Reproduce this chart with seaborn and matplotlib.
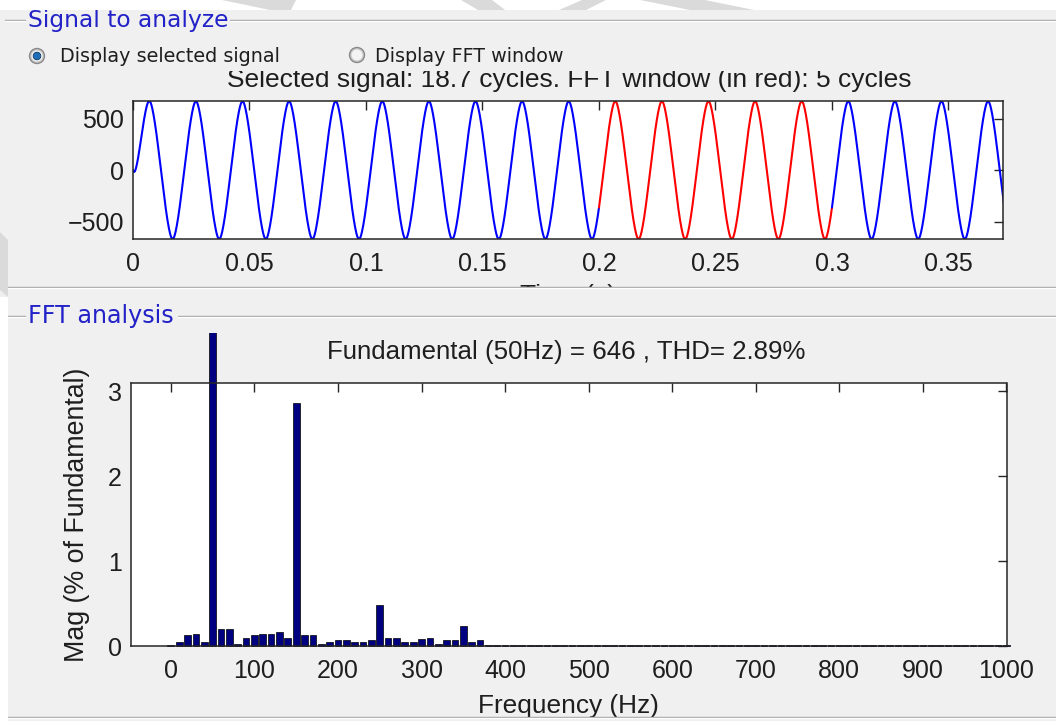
import numpy as np
import pandas as pd
import matplotlib
matplotlib.use("Agg")
import matplotlib.pyplot as plt
import seaborn as sns
from matplotlib.patches import Rectangle, Polygon, Ellipse
from matplotlib.lines import Line2D
from matplotlib.transforms import Bbox, TransformedBbox

# ---------------- data ----------------
FUND_FREQ = 50          # Hz
FUND_AMP = 646          # fundamental magnitude
THD = 2.89              # %
CYCLES_SELECTED = 18.7
FFT_START = 0.2         # s
FFT_CYCLES = 5
SIGNAL_LAG = 0.002      # s, phase lag of the waveform

freq_hz = list(range(0, 1001, 10))
mag_pct = [
    0.02, 0.05, 0.13, 0.15, 0.05, 100.0, 0.20, 0.20, 0.03, 0.10,   # 0-90
    0.13, 0.15, 0.15, 0.17, 0.10, 2.86, 0.13, 0.13, 0.03, 0.05,    # 100-190
    0.07, 0.07, 0.05, 0.05, 0.07, 0.49, 0.10, 0.10, 0.05, 0.05,    # 200-290
    0.09, 0.10, 0.03, 0.07, 0.07, 0.24, 0.05, 0.07, 0.02, 0.02,    # 300-390
    0.02, 0.02, 0.02, 0.02, 0.02, 0.02, 0.02, 0.02, 0.02, 0.02,    # 400-490
    0.02, 0.02, 0.02, 0.02, 0.02, 0.02, 0.02, 0.02, 0.02, 0.02,    # 500-590
    0.02, 0.02, 0.02, 0.02, 0.02, 0.02, 0.02, 0.02, 0.02, 0.02,    # 600-690
    0.02, 0.02, 0.02, 0.02, 0.02, 0.02, 0.02, 0.02, 0.02, 0.02,    # 700-790
    0.02, 0.02, 0.02, 0.02, 0.02, 0.02, 0.02, 0.02, 0.02, 0.02,    # 800-890
    0.02, 0.02, 0.02, 0.02, 0.02, 0.02, 0.02, 0.02, 0.02, 0.02,    # 900-990
    0.02,                                                          # 1000
]
harm_phase = {3: np.pi, 5: 0.0, 7: np.pi}   # harmonic phases (rad)

time_ticks = [0, 0.05, 0.1, 0.15, 0.2, 0.25, 0.3, 0.35]
time_ticklabels = ["0", "0.05", "0.1", "0.15", "0.2", "0.25", "0.3", "0.35"]
sig_yticks = [-500, 0, 500]
freq_ticks = list(range(0, 1001, 100))
mag_yticks = [0, 1, 2, 3]

# ---------------- figure ----------------
W, H = 1056, 721
BG = "#f0f0f0"
TXT = "#1e1e1e"
PANEL_BLUE = "#2222c8"
WM = "#dadada"

sns.set_theme(style="white")
plt.rcParams["font.family"] = ["Liberation Sans", "DejaVu Sans"]
fig = plt.figure(figsize=(W / 100, H / 100), dpi=100, facecolor=BG)


def fx(x):
    return x / W


def fy(y):
    return 1 - y / H


def axes_px(l, t, r, b):
    return [fx(l), fy(b), (r - l) / W, (b - t) / H]


def hline(y, x0, x1):
    fig.add_artist(Line2D([fx(x0), fx(x1)], [fy(y), fy(y)], transform=fig.transFigure,
                          color="#a0a0a0", lw=1.0, zorder=4))
    fig.add_artist(Line2D([fx(x0), fx(x1)], [fy(y + 1), fy(y + 1)], transform=fig.transFigure,
                          color="#ffffff", lw=1.0, zorder=4))


def poly_px(pts, color, z=7):
    fig.add_artist(Polygon([(fx(x), fy(y)) for x, y in pts], closed=True,
                           transform=fig.transFigure, facecolor=color,
                           edgecolor="none", zorder=z))


# ---------- time signal (built from the harmonic data) ----------
w = 2 * np.pi * FUND_FREQ
t = np.arange(0, CYCLES_SELECTED / FUND_FREQ + 1e-9, 1e-4)


def steady(tt):
    th = w * (tt - SIGNAL_LAG)
    s = np.sin(th)
    for k, ph in harm_phase.items():
        s = s + mag_pct[freq_hz.index(k * FUND_FREQ)] / 100 * np.sin(k * th + ph)
    return FUND_AMP * s


sig = steady(t) - steady(np.array([0.0]))[0] * np.exp(-t / 0.0015)
df_sig = pd.DataFrame({"t": t, "v": sig})
win_end = FFT_START + FFT_CYCLES / FUND_FREQ
eps = 1e-9
df_before = df_sig[df_sig.t <= FFT_START + eps]
df_win = df_sig[(df_sig.t >= FFT_START - eps) & (df_sig.t <= win_end + eps)]
df_after = df_sig[df_sig.t >= win_end - eps]

ax1 = fig.add_axes(axes_px(133, 101, 1003, 239))
ax1.set_facecolor("white")
for part, col in ((df_before, "#0000ff"), (df_win, "#ff0000"), (df_after, "#0000ff")):
    sns.lineplot(data=part, x="t", y="v", ax=ax1, color=col, lw=1.5,
                 estimator=None, sort=False)
ax1.set_xlim(0, 0.3734)
ax1.set_ylim(sig.min(), sig.max())
ax1.set_xticks(time_ticks)
ax1.set_xticklabels(time_ticklabels)
ax1.set_yticks(sig_yticks)
ax1.set_xlabel("")
ax1.set_ylabel("")

# ---------- FFT bars ----------
df_fft = pd.DataFrame({"f": freq_hz, "m": mag_pct})
ax2 = fig.add_axes(axes_px(130.7, 382.7, 1006.5, 646.3))
ax2.set_facecolor("white")
sns.barplot(data=df_fft, x="f", y="m", ax=ax2, native_scale=True, color="#000080",
            saturation=1, errorbar=None, width=0.8, edgecolor="black", linewidth=0.5)
ax2.set_xlim(-48, 1000)
ax2.set_ylim(0, 3.1)
ax2.set_xticks(freq_ticks)
ax2.set_xticklabels([str(v) for v in freq_ticks])
ax2.set_yticks(mag_yticks)
ax2.set_xlabel("Frequency (Hz)", fontsize=18.9, color=TXT, labelpad=7.5)
ax2.set_ylabel("Mag (% of Fundamental)", fontsize=19.3, color=TXT, labelpad=13)
clipbox = TransformedBbox(Bbox.from_extents(0, 0, 1, fy(333)), fig.transFigure)
for p in ax2.patches:
    p.set_clip_path(None)
    p.set_clip_box(clipbox)
    p.set_clip_on(True)

for ax in (ax1, ax2):
    for s in ax.spines.values():
        s.set_visible(True)
        s.set_color("#262626")
        s.set_linewidth(1.1)
    ax.tick_params(direction="in", length=6.5, width=1.0, top=True, right=True,
                   labelsize=18, labelcolor=TXT, color="#262626")
    ax.tick_params(axis="x", pad=9.5)
    ax.tick_params(axis="y", pad=6.5)

# ---------- texts that sit under the gray control strips ----------
fig.text(fx(569), fy(87), "Selected signal: 18.7 cycles. FFT window (in red): 5 cycles",
         ha="center", va="baseline", fontsize=19, color=TXT, zorder=0.5)
fig.text(fx(568), fy(284), "Time (s)", ha="center", va="top", fontsize=19, color=TXT, zorder=0.5)
fig.text(fx(566), fy(352), f"Fundamental ({FUND_FREQ}Hz) = {FUND_AMP} , THD= {THD:.2f}%",
         ha="center", va="center", fontsize=18.6, color=TXT, zorder=3)

fig.add_artist(Rectangle((0, fy(70.5)), 1, fy(24) - fy(70.5), transform=fig.transFigure,
                         facecolor=BG, edgecolor="none", zorder=1))
fig.add_artist(Rectangle((0, fy(330)), 1, fy(289) - fy(330), transform=fig.transFigure,
                         facecolor=BG, edgecolor="none", zorder=1))

# ---------- panels ----------
hline(20, 5, 25)
hline(20, 230, W)
hline(287, 8, W)
hline(316, 8, 25)
hline(316, 178, W)
hline(717, 8, W)
fig.text(fx(28), fy(20), "Signal to analyze", ha="left", va="center", fontsize=16.8,
         color=PANEL_BLUE, family="DejaVu Sans", zorder=5,
         bbox=dict(facecolor=BG, edgecolor="none", pad=1))
fig.text(fx(28), fy(316), "FFT analysis", ha="left", va="center", fontsize=17.2,
         color=PANEL_BLUE, family="DejaVu Sans", zorder=5,
         bbox=dict(facecolor=BG, edgecolor="none", pad=1))


# radio buttons
def radio(cx, cy, selected):
    fig.add_artist(Ellipse((fx(cx), fy(cy)), 2 * 7.5 / W, 2 * 7.5 / H, transform=fig.transFigure,
                           facecolor="#c8c8c8", edgecolor="#8a8a8a", lw=1.0, zorder=5))
    fig.add_artist(Ellipse((fx(cx), fy(cy)), 2 * 5.5 / W, 2 * 5.5 / H, transform=fig.transFigure,
                           facecolor="#f4f4f4", edgecolor="none", zorder=5))
    if selected:
        fig.add_artist(Ellipse((fx(cx), fy(cy)), 2 * 3.8 / W, 2 * 3.8 / H, transform=fig.transFigure,
                               facecolor="#1f6fb8", edgecolor="#0d3a66", lw=0.6, zorder=6))


radio(37, 56, True)
radio(357, 55, False)
fig.text(fx(60), fy(57), "Display selected signal", ha="left", va="center", fontsize=13.8,
         color=TXT, family="DejaVu Sans", zorder=5)
fig.text(fx(375), fy(57), "Display FFT window", ha="left", va="center", fontsize=13.8,
         color=TXT, family="DejaVu Sans", zorder=5)

# ---------- white watermark strip along the top / left ----------
fig.add_artist(Rectangle((0, fy(10)), 1, 10 / H, transform=fig.transFigure,
                         facecolor="white", edgecolor="none", zorder=6))
poly_px([(222, 0), (296, 0), (291, 10), (270, 10)], WM)
poly_px([(461, 0), (492, 0), (505, 10), (478, 10)], WM)
poly_px([(582, 0), (606, 0), (586, 10), (559, 10)], WM)
poly_px([(640, 0), (705, 0), (754, 10), (690, 10)], WM)
fig.add_artist(Rectangle((0, 0), fx(8), fy(297), transform=fig.transFigure,
                         facecolor="white", edgecolor="none", zorder=6))
poly_px([(0, 232), (8, 240), (8, 297), (0, 290)], WM)

fig.savefig("out.png", dpi=100, facecolor=BG)
